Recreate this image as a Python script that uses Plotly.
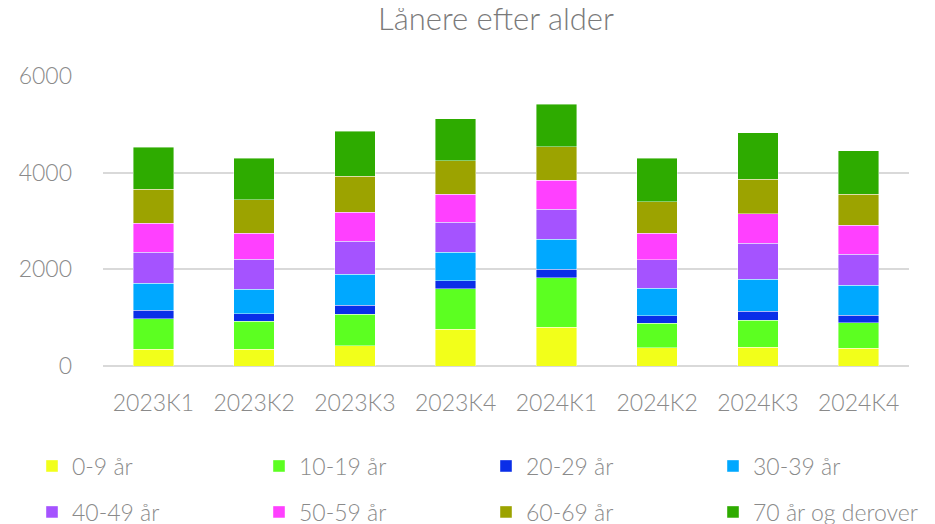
import plotly.graph_objects as go

categories = ["2023K1", "2023K2", "2023K3", "2023K4", "2024K1", "2024K2", "2024K3", "2024K4"]
series_names = ["0-9 år", "10-19 år", "20-29 år", "30-39 år", "40-49 år", "50-59 år", "60-69 år", "70 år og derover"]

age_0_9 = [346, 346, 423, 761, 802, 381, 388, 367]
age_10_19 = [628, 581, 643, 835, 1022, 504, 559, 524]
age_20_29 = [181, 159, 192, 166, 181, 152, 181, 160]
age_30_39 = [553, 504, 637, 589, 621, 567, 669, 616]
age_40_49 = [643, 622, 684, 622, 622, 593, 740, 642]
age_50_59 = [601, 539, 601, 580, 595, 548, 608, 601]
age_60_69 = [705, 684, 746, 690, 691, 649, 719, 643]
age_70_plus = [870, 864, 933, 871, 885, 905, 966, 904]

colors = ["#F2FF1A", "#5CFF21", "#0A2EE8", "#00A8FF", "#A553FF", "#FF40FF", "#9CA300", "#2EAB00"]

values = [age_0_9, age_10_19, age_20_29, age_30_39, age_40_49, age_50_59, age_60_69, age_70_plus]

FONT = "Lato"
TXT = "#8a8a8a"
# page has an 8px body margin, so the figure is 8px smaller and positions are shifted by 8px
W, H = 927, 516

# legend grid: 4 columns x 2 rows (figure pixel positions of each entry)
legend_cols = [24, 251, 478, 705]
legend_rows = [458, 504]

fig = go.Figure()
legends = {}
for i, (name, vals, col) in enumerate(zip(series_names, values, colors)):
    lname = "legend" if i == 0 else f"legend{i + 1}"
    fig.add_trace(go.Bar(
        x=categories, y=vals, name=name,
        marker=dict(color=col, line=dict(color="rgba(255,255,255,0.6)", width=0.7)),
        legend=lname, showlegend=True,
    ))
    cx = legend_cols[i % 4]
    cy = legend_rows[i // 4]
    legends[lname] = dict(
        orientation="h",
        xref="container", yref="container",
        x=cx / W, xanchor="left",
        y=1 - cy / H, yanchor="middle",
        font=dict(family=FONT, size=23, color=TXT, weight=300),
        bgcolor="rgba(0,0,0,0)",
    )

fig.update_layout(
    barmode="stack",
    bargap=0.6,
    width=W, height=H,
    showlegend=True,
    margin=dict(l=95, r=26, t=68, b=158),
    paper_bgcolor="white", plot_bgcolor="white",
    title=dict(
        text="Lånere efter alder",
        x=488 / W, xanchor="center", xref="container",
        y=1 - 11 / H, yanchor="middle", yref="container",
        font=dict(family=FONT, size=31, color="#7a7a7a", weight=300),
    ),
    font=dict(family=FONT, color=TXT),
    **legends,
)

fig.update_xaxes(
    showgrid=False, showline=False, ticks="",
    tickfont=dict(family=FONT, size=23, color=TXT, weight=300),
    ticklabelstandoff=21,
)
fig.update_yaxes(
    range=[0, 6000], tickvals=[0, 2000, 4000, 6000],
    showgrid=True, gridcolor="#d9d9d9", gridwidth=1.5,
    zeroline=True, zerolinecolor="#d9d9d9", zerolinewidth=1.5,
    showline=False, ticks="",
    tickfont=dict(family=FONT, size=23, color=TXT, weight=300),
    ticklabelstandoff=30,
)

fig.write_html("out.html")
